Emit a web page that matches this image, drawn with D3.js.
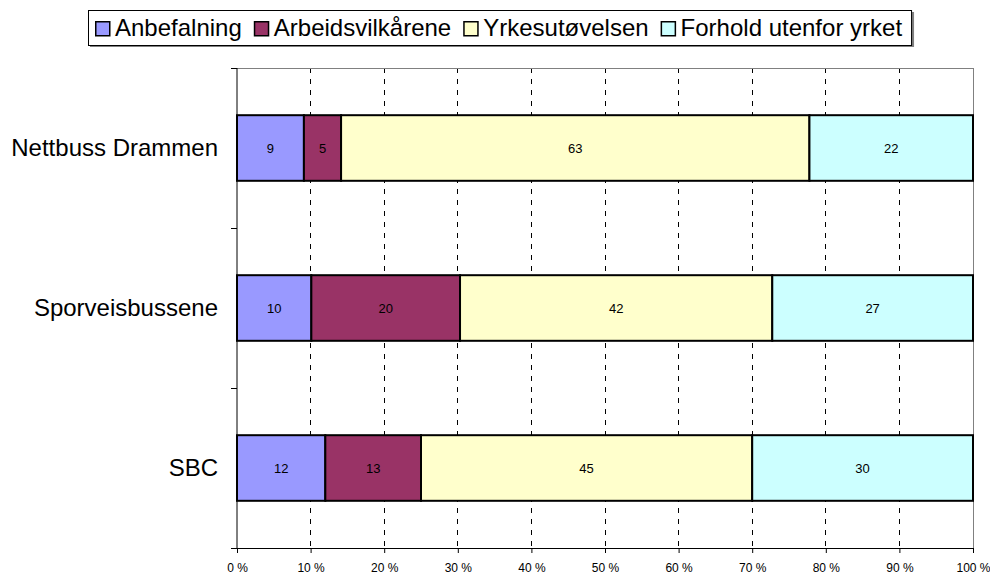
<!DOCTYPE html>
<html><head><meta charset="utf-8">
<script src="https://cdn.jsdelivr.net/npm/d3@7"></script>
<style>body{margin:0;background:#fff;}svg{display:block;font-family:"Liberation Sans",Arial,sans-serif;}</style>
</head><body>
<svg id="c" width="990" height="575"></svg>
<script>
const categories = ["Nettbuss Drammen", "Sporveisbussene", "SBC"];
const seriesNames = ["Anbefalning", "Arbeidsvilkårene", "Yrkesutøvelsen", "Forhold utenfor yrket"];
const seriesColors = ["#9999FF", "#993366", "#FFFFCC", "#CCFFFF"];
const anbefalning = [9, 10, 12];
const arbeidsvilkarene = [5, 20, 13];
const yrkesutovelsen = [63, 42, 45];
const forhold = [22, 27, 30];
const tickLabels = ["0 %","10 %","20 %","30 %","40 %","50 %","60 %","70 %","80 %","90 %","100 %"];

const seriesValues = [anbefalning, arbeidsvilkarene, yrkesutovelsen, forhold];
const svg = d3.select("#c");
const L = 237, R = 973, T = 68, B = 548;

const x = d3.scaleLinear().domain([0, 1]).range([L, R]);
const y = d3.scaleBand().domain(categories).range([T, B]).paddingInner(0.59).paddingOuter(0.295);

// gridlines
svg.append("g").selectAll("line").data(d3.range(1, 11)).join("line")
  .attr("x1", d => x(d/10)).attr("x2", d => x(d/10))
  .attr("y1", T).attr("y2", B)
  .attr("stroke", d => d === 10 ? "#808080" : "#000")
  .attr("stroke-width", 1)
  .attr("stroke-dasharray", d => d === 10 ? null : "5,6")
  .attr("shape-rendering", "crispEdges");
// top border
svg.append("line").attr("x1", L).attr("x2", R).attr("y1", T+0.5).attr("y2", T+0.5)
  .attr("stroke", "#808080");

// stacked bars
categories.forEach((cat, i) => {
  const vals = seriesValues.map(s => s[i]);
  const total = d3.sum(vals);
  let cum = 0;
  vals.forEach((v, j) => {
    const x0 = x(cum/total), x1 = x((cum+v)/total);
    svg.append("rect").attr("x", x0).attr("y", y(cat)).attr("width", x1-x0).attr("height", y.bandwidth())
      .attr("fill", seriesColors[j]).attr("stroke", "#000").attr("stroke-width", 2);
    svg.append("text").attr("x", (x0+x1)/2).attr("y", y(cat)+y.bandwidth()/2+5)
      .attr("text-anchor", "middle").attr("font-size", 13).attr("fill", "#000").text(v);
    cum += v;
  });
});

// axes
const xAxis = d3.axisBottom(x).tickValues(d3.range(0, 11).map(d => d/10))
  .tickFormat((d, i) => tickLabels[i]).tickSize(5).tickSizeOuter(0);
const gx = svg.append("g").attr("transform", `translate(0,${B})`).call(xAxis);
gx.select(".domain").attr("stroke", "#000");
gx.selectAll(".tick line").attr("stroke", "#000");
gx.selectAll(".tick text").attr("font-size", 12).attr("font-family", "Liberation Sans, Arial, sans-serif")
  .attr("fill", "#000").attr("y", 24).attr("dy", null);

svg.append("line").attr("x1", L).attr("x2", L).attr("y1", T).attr("y2", B).attr("stroke", "#000");
const bounds = [T, T + (B-T)/3, T + 2*(B-T)/3, B];
svg.append("g").selectAll("line").data(bounds).join("line")
  .attr("x1", L-6).attr("x2", L).attr("y1", d => d).attr("y2", d => d).attr("stroke", "#000")
  .attr("shape-rendering", "crispEdges");
svg.append("g").selectAll("text").data(categories).join("text")
  .attr("x", 218).attr("y", d => y(d) + y.bandwidth()/2 + 8)
  .attr("text-anchor", "end").attr("font-size", 24).attr("fill", "#000").text(d => d);

// legend
const lg = svg.append("g");
const shadow = lg.append("rect").attr("fill", "#808080");
const box = lg.append("rect").attr("fill", "#fff").attr("stroke", "#000").attr("stroke-width", 1);
let lx = 95;
seriesNames.forEach((n, j) => {
  lg.append("rect").attr("x", lx + 0.75).attr("y", 21.75).attr("width", 14).attr("height", 14)
    .attr("fill", seriesColors[j]).attr("stroke", "#000").attr("stroke-width", 1.5);
  const t = lg.append("text").attr("x", lx + 20).attr("y", 36).attr("font-size", 24).attr("fill", "#000").text(n);
  lx = lx + 20 + t.node().getComputedTextLength() + 12;
});
const bw = lx - 12 + 9 - 88;
box.attr("x", 88.5).attr("y", 10.5).attr("width", bw).attr("height", 35);
shadow.attr("x", 90).attr("y", 12).attr("width", bw + 1).attr("height", 35);
</script>
</body></html>
